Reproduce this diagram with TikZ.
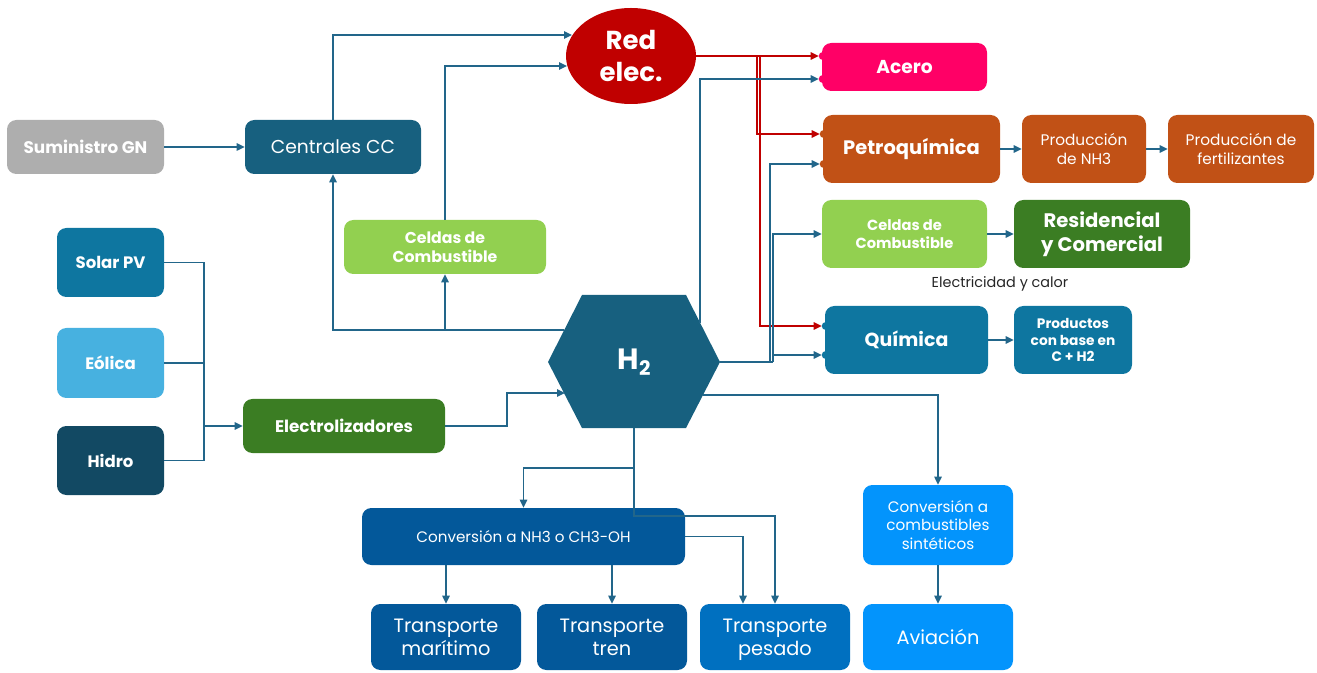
\documentclass[tikz,border=0pt]{standalone}
\usepackage{fontspec}
\setmainfont{Poppins}
\usetikzlibrary{arrows.meta,calc,shapes.geometric}
\definecolor{cgray}{HTML}{AEAEAE}
\definecolor{cteal}{HTML}{17607F}
\definecolor{cred}{HTML}{C00000}
\definecolor{cpink}{HTML}{FF0066}
\definecolor{corange}{HTML}{C15116}
\definecolor{clgreen}{HTML}{92D050}
\definecolor{cdgreen}{HTML}{3B7D23}
\definecolor{cblue}{HTML}{0E76A0}
\definecolor{clblue}{HTML}{47B1E0}
\definecolor{cnavy}{HTML}{124963}
\definecolor{cdblue}{HTML}{03589A}
\definecolor{cmblue}{HTML}{0070C0}
\definecolor{cbright}{HTML}{0394FC}
\definecolor{cline}{HTML}{22668A}
\definecolor{ctext}{HTML}{262626}
\newcommand\fs[1]{\fontsize{#1pt}{\the\dimexpr #1pt*12/10\relax}\selectfont}
\newcommand\boxnode[7]{\node[boxbase,#6,minimum width={(#4-#2)*0.75pt},minimum height={(#5-#3)*0.75pt}] (#1) at ({(#2+#4)/2},{(#3+#5)/2}) {#7};}
\tikzset{
  boxbase/.style={rectangle,rounded corners=7pt,inner sep=0pt,text=white,align=center},
  conn/.style={draw=cline,line width=1.1pt,-{Triangle[length=6pt,width=5.5pt]}},
  redconn/.style={draw=cred,line width=1.1pt,-{Triangle[length=6pt,width=5.5pt]}},
  plain/.style={draw=cline,line width=1.1pt},
}
\begin{document}
\begin{tikzpicture}[x=0.75pt,y=-0.75pt]
\useasboundingbox (0,0) rectangle (1317,673);
% boxes
\boxnode{gn}{7}{120}{164}{174}{fill=cgray,font=\fs{12.6}\bfseries}{Suministro GN}
\boxnode{cc}{245}{120}{421}{174}{fill=cteal,font=\fs{14}}{Centrales CC}
\node[ellipse,fill=cred,minimum width=130*0.75pt,minimum height=96*0.75pt,inner sep=0pt,text=white,align=center,font=\fs{19.5}\bfseries] (redel) at (631,56) {Red\\elec.};
\boxnode{acero}{822}{43}{987}{91}{fill=cpink,font=\fs{14}\bfseries}{Acero}
\boxnode{petro}{823}{115}{1000}{183}{fill=corange,font=\fs{14.6}\bfseries}{Petroquímica}
\boxnode{nh3}{1022}{115}{1146}{183}{fill=corange,font=\fs{11.5}}{Producción\\de NH3}
\boxnode{fert}{1168}{115}{1314}{183}{fill=corange,font=\fs{11.5}}{Producción de\\fertilizantes}
\boxnode{celR}{822}{200}{987}{268}{fill=clgreen,font=\fs{11}\bfseries}{Celdas de\\Combustible}
\boxnode{res}{1014}{200}{1190}{268}{fill=cdgreen,font=\fs{14.7}\bfseries}{Residencial\\y Comercial}
\boxnode{qu}{825}{306}{988}{374}{fill=cblue,font=\fs{14.2}\bfseries}{Química}
\boxnode{prod}{1014}{306}{1132}{374}{fill=cblue,font=\fs{10.3}\bfseries}{Productos\\con base en\\C + H2}
\boxnode{celL}{344}{220}{546}{274}{fill=clgreen,font=\fs{11.8}\bfseries}{Celdas de\\Combustible}
\boxnode{solar}{57}{228}{164}{297}{fill=cblue,font=\fs{12.4}\bfseries}{Solar PV}
\boxnode{eol}{57}{328}{164}{398}{fill=clblue,font=\fs{12.4}\bfseries}{Eólica}
\boxnode{hidro}{57}{426}{164}{495}{fill=cnavy,font=\fs{12.4}\bfseries}{Hidro}
\boxnode{elec}{243}{399}{445}{453}{fill=cdgreen,font=\fs{12.6}\bfseries}{Electrolizadores}
\boxnode{conv}{362}{508}{685}{565}{fill=cdblue,font=\fs{11.4}}{Conversión a NH3 o CH3-OH}
\boxnode{tmar}{371}{604}{521}{670}{fill=cdblue,font=\fs{14.5}}{Transporte\\marítimo}
\boxnode{ttren}{537}{604}{687}{670}{fill=cdblue,font=\fs{14.5}}{Transporte\\tren}
\boxnode{tpes}{700}{604}{850}{670}{fill=cmblue,font=\fs{14.5}}{Transporte\\\smash{p}esado}
\boxnode{syn}{863}{485}{1013}{565}{fill=cbright,font=\fs{11.4}}{Conversión a\\combustibles\\sintéticos}
\boxnode{avi}{863}{604}{1013}{670}{fill=cbright,font=\fs{14.5}}{Aviación}
\node[text=ctext,font=\fs{10.8},inner sep=0pt] (elcal) at (1000,284) {Electricidad y calor};
% hexagon
\fill[cteal] (548,362) -- (582,295) -- (686,295) -- (720,362) -- (686,428) -- (582,428) -- cycle;
\node[text=white,font=\fs{22}\bfseries,inner sep=0pt] (h2) at (634,362) {H\raisebox{-0.35ex}{\fs{15}2}};
\coordinate (h2L) at (564,330);
\coordinate (h2LL) at (565,393);
\coordinate (h2TR) at (700,323);
\coordinate (h2R) at (720,362);
\coordinate (h2BR) at (703,395);
\coordinate (h2B) at (634,428);
% entry bumps
\foreach \n/\c/\d in {acero/cpink/-11,acero/cpink/12,petro/corange/-15,petro/corange/15,qu/cblue/-14,qu/cblue/15}
  \fill[\c] ($(\n.west)+(1,\d)$) circle (4);
\coordinate (acA) at ($(acero.west)+(-3,-11)$);
\coordinate (acB) at ($(acero.west)+(-3,12)$);
\coordinate (peA) at ($(petro.west)+(-3,-15)$);
\coordinate (peB) at ($(petro.west)+(-3,15)$);
\coordinate (quA) at ($(qu.west)+(-3,-14)$);
\coordinate (quB) at ($(qu.west)+(-3,15)$);
\coordinate (jn) at (204,426);
% connectors left
\draw[conn] (gn.east) -- (cc.west);
\draw[conn] (cc.north) |- ($(redel.center)+(-59,-21)$);
\draw[conn] (celL.north) |- ($(redel.center)+(-64,10)$);
\draw[conn] (h2L) -| (cc.south);
\draw[conn] (celL.south |- h2L) -- (celL.south);
\draw[plain] (solar.east) -| (jn);
\draw[plain] (eol.east) -| (jn);
\draw[plain] (hidro.east) -| (jn);
\draw[conn] (jn) -- (elec.west);
\draw[conn] (elec.east) -- (507,426) |- (h2LL);
% red connectors
\draw[redconn] (redel.east) -- (acA);
\draw[redconn] (757,56) |- (peA);
\draw[redconn] (760,56) |- (quA);
% blue right connectors
\draw[conn] (h2TR) |- (acB);
\draw[conn] (h2R) -- (770,362) |- (peB);
\draw[plain] (770,362) -- (773,362);
\draw[conn] (773,362) |- (celR.west);
\draw[conn] (773,355) -- (quB);
\draw[conn] (h2BR) -| (syn.north);
\draw[conn] (syn.south) -- (avi.north);
% right chains
\draw[conn] (petro.east) -- (nh3.west);
\draw[conn] (nh3.east) -- (fert.west);
\draw[conn] (celR.east) -- (res.west);
\draw[conn] (qu.east) -- (prod.west);
% bottom
\draw[conn] (h2B) -- (634,468) -| (conv.north);
\draw[conn] (634,468) -- (634,516) -| (tpes.north);
\draw[conn] (conv.east) -| ($(tpes.north)+(-32,0)$);
\draw[conn] (tmar.north |- conv.south) -- (tmar.north);
\draw[conn] (ttren.north |- conv.south) -- (ttren.north);
\end{tikzpicture}
\end{document}
